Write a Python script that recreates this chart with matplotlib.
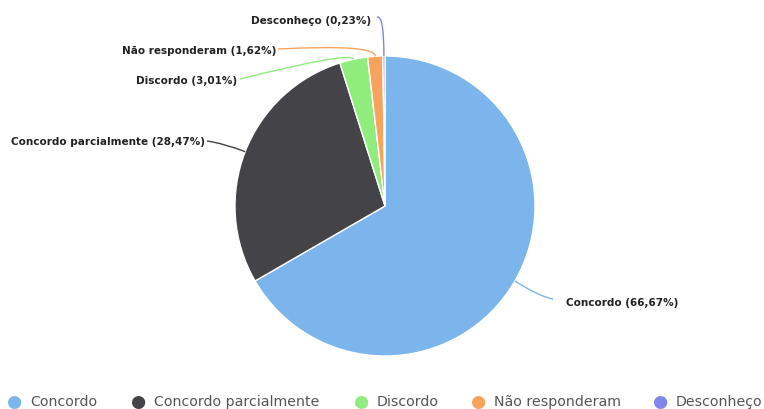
import numpy as np
import matplotlib
matplotlib.use("Agg")
import matplotlib.pyplot as plt
from matplotlib.path import Path
from matplotlib.patches import PathPatch

categories = ["Concordo", "Concordo parcialmente", "Discordo", "Não responderam", "Desconheço"]
values = [66.67, 28.47, 3.01, 1.62, 0.23]
colors = ["#7cb5ec", "#434348", "#90ed7d", "#f7a35c", "#8085e9"]

W, H = 764, 410
fig = plt.figure(figsize=(W / 100, H / 100), dpi=100)
fig.patch.set_facecolor("white")

cx, cy, R = 385, 207, 150  # pixel layout of pie
ax = fig.add_axes([(cx - R) / W, (H - cy - R) / H, 2 * R / W, 2 * R / H])
ax.axis("off")

wedges, _ = ax.pie(values, colors=colors, startangle=90, counterclock=False, radius=1,
                   wedgeprops=dict(edgecolor="white", linewidth=1))
ax.set_xlim(-1, 1)
ax.set_ylim(-1, 1)
ax.set_aspect("equal")


def px(x, y):
    return ((x - cx) / R, (cy - y) / R)


# label layout: (text anchor pixel, ha, control point pixel, connector end pixel)
layout = [
    ((566, 303), "left", (540, 298), (553, 300)),
    ((205, 142), "right", (222, 144), (207, 142)),
    ((237, 81), "right", (352, 52), (240, 80)),
    ((276, 51), "right", (376, 45), (278, 50)),
    ((371, 21), "right", (384, 16), (377, 18)),
]

cum = np.cumsum([0] + values[:-1])
total = sum(values)
for i, (cat, v) in enumerate(zip(categories, values)):
    mid = 90 - 360 * (cum[i] + v / 2) / total
    ex, ey = np.cos(np.radians(mid)), np.sin(np.radians(mid))
    (tx, ty), ha, ctrl, end = layout[i]
    c = px(*ctrl)
    e = px(*end)
    path = Path([(ex, ey), c, e], [Path.MOVETO, Path.CURVE3, Path.CURVE3])
    ax.add_patch(PathPatch(path, fill=False, edgecolor=colors[i], linewidth=1, clip_on=False))
    label = f"{cat} ({v:.2f}%)".replace(".", ",")
    fig.text(tx / W, 1 - ty / H, label, ha=ha, va="center", fontsize=7.5,
             fontweight="bold", color="#222222")

# legend
leg_x = [14, 138, 361, 478, 660]
ly = 402
for i, cat in enumerate(categories):
    fig.text(leg_x[i] / W, 1 - ly / H, "●", ha="center", va="center", fontsize=12.5,
             color=colors[i])
    fig.text((leg_x[i] + 16) / W, 1 - ly / H, cat, ha="left", va="center", fontsize=10.2,
             color="#555555")

fig.savefig("out.png", dpi=100, facecolor="white")
